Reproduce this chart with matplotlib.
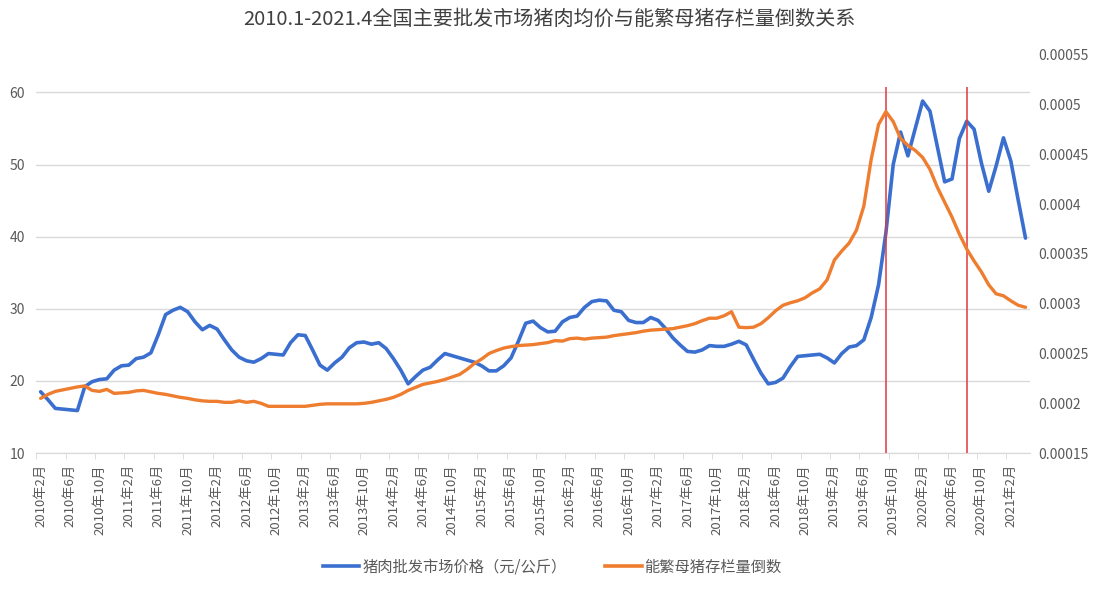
import matplotlib
matplotlib.use("Agg")
import matplotlib.pyplot as plt
from matplotlib.lines import Line2D

plt.rcParams["font.family"] = ["Noto Sans CJK SC", "DejaVu Sans"]

TITLE = "2010.1-2021.4全国主要批发市场猪肉均价与能繁母猪存栏量倒数关系"
PRICE_LABEL = "猪肉批发市场价格（元/公斤）"
SOW_LABEL = "能繁母猪存栏量倒数"

# monthly categories, 2010-02 .. 2021-04
START_YEAR, START_MONTH, N_MONTHS = 2010, 2, 135
months = []
for k in range(N_MONTHS):
    m = START_MONTH - 1 + k
    months.append(f"{START_YEAR + m // 12}年{m % 12 + 1}月")

# pork wholesale price, yuan/kg (left axis)
price = [
    18.5, 17.4, 16.2, 16.1, 16.0, 15.9, 19.2, 19.9, 20.2, 20.3,
    21.5, 22.1, 22.2, 23.1, 23.3, 23.9, 26.4, 29.2, 29.8, 30.2,
    29.6, 28.2, 27.1, 27.7, 27.2, 25.7, 24.3, 23.3, 22.8, 22.6,
    23.1, 23.8, 23.7, 23.6, 25.3, 26.4, 26.3, 24.3, 22.2, 21.5,
    22.5, 23.3, 24.6, 25.3, 25.4, 25.1, 25.3, 24.5, 23.1, 21.5,
    19.6, 20.6, 21.5, 21.9, 22.9, 23.8, 23.5, 23.2, 22.9, 22.6,
    22.1, 21.4, 21.4, 22.1, 23.2, 25.5, 28.0, 28.3, 27.4, 26.8,
    26.9, 28.2, 28.8, 29.0, 30.2, 31.0, 31.2, 31.1, 29.8, 29.6,
    28.4, 28.1, 28.1, 28.8, 28.4, 27.3, 26.0, 25.0, 24.1, 24.0,
    24.3, 24.9, 24.8, 24.8, 25.1, 25.5, 25.0, 23.0, 21.1, 19.6,
    19.8, 20.4, 22.0, 23.4, 23.5, 23.6, 23.7, 23.2, 22.5, 23.8,
    24.7, 24.9, 25.7, 28.8, 33.3, 40.5, 50.0, 54.5, 51.2, 55.0,
    58.8, 57.4, 52.5, 47.6, 48.0, 53.6, 56.0, 54.9, 50.2, 46.3,
    49.8, 53.7, 50.5, 45.1, 39.8,
]

# reciprocal of breeding-sow inventory, in units of 1e-4 (right axis)
sow_inv_e4 = [
    2.05, 2.09, 2.12, 2.135, 2.15, 2.165, 2.175, 2.13, 2.12, 2.14,
    2.10, 2.105, 2.11, 2.125, 2.13, 2.115, 2.10, 2.09, 2.075, 2.06,
    2.05, 2.035, 2.025, 2.02, 2.02, 2.01, 2.01, 2.025, 2.01, 2.02,
    2.00, 1.97, 1.97, 1.97, 1.97, 1.97, 1.97, 1.98, 1.99, 1.995,
    1.995, 1.995, 1.995, 1.995, 2.00, 2.01, 2.025, 2.04, 2.06, 2.09,
    2.13, 2.16, 2.19, 2.205, 2.22, 2.24, 2.265, 2.29, 2.34, 2.40,
    2.445, 2.50, 2.53, 2.555, 2.57, 2.58, 2.585, 2.59, 2.60, 2.61,
    2.63, 2.625, 2.65, 2.655, 2.645, 2.655, 2.66, 2.665, 2.68, 2.69,
    2.70, 2.71, 2.725, 2.735, 2.74, 2.745, 2.75, 2.765, 2.78, 2.80,
    2.83, 2.855, 2.855, 2.88, 2.92, 2.765, 2.76, 2.765, 2.80, 2.86,
    2.93, 2.985, 3.01, 3.03, 3.06, 3.11, 3.15, 3.24, 3.44, 3.53,
    3.61, 3.74, 3.98, 4.45, 4.80, 4.93, 4.83, 4.66, 4.59, 4.54,
    4.47, 4.35, 4.17, 4.02, 3.87, 3.70, 3.55, 3.43, 3.32, 3.19,
    3.10, 3.08, 3.03, 2.985, 2.965,
]
sow_inv = [v * 1e-4 for v in sow_inv_e4]

# months marked with red vertical lines
marked_months = ["2019年9月", "2020年8月"]

left_ticks = [10, 20, 30, 40, 50, 60]
right_ticks = [0.00015, 0.0002, 0.00025, 0.0003, 0.00035, 0.0004, 0.00045, 0.0005, 0.00055]

BLUE = "#3a6fcf"
ORANGE = "#ee7d2f"
RED = "#e0393e"
GRID = "#d9d9d9"
TXT = "#595959"

fig = plt.figure(figsize=(10.98, 5.90), dpi=100)
ax = fig.add_axes([0.033, 0.232, 0.905, 0.675])
ax2 = ax.twinx()

x = list(range(N_MONTHS))
ax.plot(x, price, color=BLUE, lw=2.6, solid_capstyle="round", zorder=3)
ax2.plot(x, sow_inv, color=ORANGE, lw=2.4, solid_capstyle="round", zorder=3)

for m in marked_months:
    ax.vlines(months.index(m), 10, 60.8, color=RED, lw=1.3, alpha=0.85, zorder=5)

ax.set_xlim(-0.6, N_MONTHS - 0.4)
ax.set_ylim(10, 65.2)
ax2.set_ylim(0.00015, 0.00055)

ax.set_yticks(left_ticks)
ax.set_yticklabels([str(t) for t in left_ticks])
ax2.set_yticks(right_ticks)
ax2.set_yticklabels([f"{t:.5f}".rstrip("0") for t in right_ticks])

label_idx = list(range(0, N_MONTHS, 4))
ax.set_xticks(label_idx)
ax.set_xticklabels([months[i] for i in label_idx], rotation=90)
ax.set_xticks([i - 0.6 for i in label_idx], minor=True)

ax.yaxis.grid(True, color=GRID, lw=1.0)
ax.set_axisbelow(True)
for a in (ax, ax2):
    for s in a.spines.values():
        s.set_visible(False)
ax.spines["bottom"].set_visible(True)
ax.spines["bottom"].set_color(GRID)

ax.tick_params(axis="y", length=0, pad=8, labelsize=10, labelcolor=TXT)
ax2.tick_params(axis="y", length=0, pad=6, labelsize=10, labelcolor=TXT)
ax.tick_params(axis="x", which="major", length=0, pad=8, labelsize=9.5, labelcolor=TXT)
ax.tick_params(axis="x", which="minor", length=4, color=GRID)

fig.suptitle(TITLE, x=0.5, y=0.985, fontsize=14.5, color="#404040")

handles = [
    Line2D([0], [0], color=BLUE, lw=2.6),
    Line2D([0], [0], color=ORANGE, lw=2.6),
]
fig.legend(handles, [PRICE_LABEL, SOW_LABEL], loc="center", bbox_to_anchor=(0.503, 0.039),
           ncol=2, frameon=False, fontsize=11, handlelength=2.4, handletextpad=0.2,
           columnspacing=2.5, labelcolor=TXT)

fig.savefig("out.png", dpi=100, facecolor="white")
